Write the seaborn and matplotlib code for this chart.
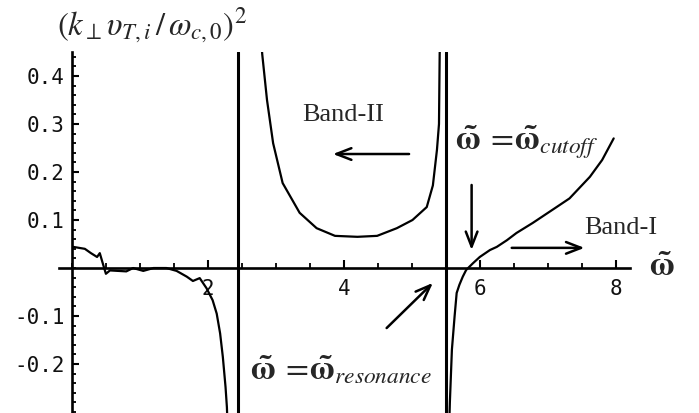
import numpy as np
import pandas as pd
import matplotlib
matplotlib.use("Agg")
import matplotlib.pyplot as plt
from matplotlib.ticker import MultipleLocator, FixedLocator
import seaborn as sns

# Dispersion branches: normalised frequency vs (k_perp v_Ti / w_c0)^2
low_w = [0.02, 0.19, 0.28, 0.37, 0.41, 0.47, 0.50, 0.56, 0.80, 0.90, 1.05, 1.20,
         1.39, 1.54, 1.69, 1.78, 1.88, 1.98, 2.07, 2.13, 2.18, 2.22, 2.26, 2.28, 2.29]
low_k = [0.044, 0.040, 0.031, 0.023, 0.031, 0.002, -0.012, -0.005, -0.007, 0.000,
         -0.006, 0.000, 0.000, -0.006, -0.018, -0.027, -0.021, -0.042, -0.067,
         -0.095, -0.136, -0.185, -0.248, -0.290, -0.330]

band2_w = [2.77, 2.80, 2.87, 2.96, 3.10, 3.35, 3.60, 3.87, 4.20, 4.49, 4.78, 5.01,
           5.22, 5.31, 5.37, 5.40, 5.41, 5.42]
band2_k = [0.50, 0.445, 0.350, 0.260, 0.177, 0.115, 0.083, 0.067, 0.065, 0.067,
           0.083, 0.100, 0.127, 0.172, 0.246, 0.300, 0.445, 0.50]

band1_w = [5.55, 5.56, 5.59, 5.63, 5.66, 5.70, 5.75, 5.80, 5.90, 6.00, 6.15, 6.25,
           6.40, 6.54, 6.78, 7.13, 7.32, 7.62, 7.80, 7.97]
band1_k = [-0.33, -0.28, -0.17, -0.10, -0.052, -0.035, -0.018, -0.004, 0.010, 0.023,
           0.0375, 0.044, 0.058, 0.073, 0.094, 0.127, 0.145, 0.190, 0.225, 0.270]

asymptotes = [2.44, 5.50]

x_ticks = [2, 4, 6, 8]
y_ticks = [-0.2, -0.1, 0.1, 0.2, 0.3, 0.4]

df = pd.concat([
    pd.DataFrame({"w": low_w, "k2": low_k, "branch": "low"}),
    pd.DataFrame({"w": band2_w, "k2": band2_k, "branch": "Band-II"}),
    pd.DataFrame({"w": band1_w, "k2": band1_k, "branch": "Band-I"}),
], ignore_index=True)

sns.set_theme(style="white")
plt.rcParams["mathtext.fontset"] = "stix"
plt.rcParams["font.family"] = ["DejaVu Sans Mono", "DejaVu Sans"]

W, H = 699, 413
fig = plt.figure(figsize=(W / 100, H / 100), dpi=100)
ax = fig.add_axes([59 / W, 0, (630 - 59) / W, 361 / H])

sns.lineplot(data=df, x="w", y="k2", units="branch", estimator=None, sort=False,
             color="black", lw=1.6, ax=ax, legend=False)
for xa in asymptotes:
    ax.axvline(xa, color="black", lw=2.2)

ax.set_xlim(-0.19, 8.21)
ax.set_ylim(-0.302, 0.45)
ax.set_xlabel("")
ax.set_ylabel("")

for side in ("top", "right"):
    ax.spines[side].set_visible(False)
for side in ("left", "bottom"):
    ax.spines[side].set_position(("data", 0))
    ax.spines[side].set_linewidth(1.9)
    ax.spines[side].set_color("black")

ax.xaxis.set_major_locator(FixedLocator(x_ticks))
ax.xaxis.set_minor_locator(MultipleLocator(0.5))
ax.yaxis.set_major_locator(FixedLocator(y_ticks))
ax.yaxis.set_minor_locator(MultipleLocator(0.02))
ax.set_xticklabels([str(v) for v in x_ticks])
ax.set_yticklabels([f"{v:.1f}" for v in y_ticks])
ax.tick_params(axis="both", which="both", direction="in", color="black",
               bottom=True, left=True, labelsize=15, labelcolor="#111111")
ax.tick_params(axis="x", which="major", length=6, width=1.5, pad=8)
ax.tick_params(axis="x", which="minor", length=3.5, width=1.3)
ax.tick_params(axis="y", which="major", length=5, width=1.5, pad=5)
ax.tick_params(axis="y", which="minor", length=3, width=1.3)

serif = ["Liberation Serif", "DejaVu Serif"]
wt = r"\mathbf{\tilde{\omega}}"
ax.text(3.99, 0.319, "Band-II", family=serif, fontsize=19, ha="center", va="center")
ax.text(8.07, 0.083, "Band-I", family=serif, fontsize=19, ha="center", va="center")
ax.text(5.63, 0.262, rf"${wt}\;=\!{wt}_{{cutoff}}$", fontsize=24,
        ha="left", va="center")
ax.text(2.62, -0.2125, rf"${wt}\;=\!{wt}_{{resonance}}$", fontsize=24,
        ha="left", va="center")
ax.text(8.68, 0.004, rf"${wt}$", fontsize=24, ha="center", va="center",
        clip_on=False)

arrow = dict(arrowstyle="->,head_length=0.9,head_width=0.35", color="black", lw=1.8,
             shrinkA=0, shrinkB=0)
ax.annotate("", xy=(3.84, 0.2375), xytext=(4.96, 0.2375), arrowprops=arrow)
ax.annotate("", xy=(5.88, 0.0375), xytext=(5.88, 0.173), arrowprops=arrow)
ax.annotate("", xy=(7.54, 0.042), xytext=(6.47, 0.042), arrowprops=arrow)
ax.annotate("", xy=(5.31, -0.031), xytext=(4.63, -0.125), arrowprops=arrow)

fig.text(152 / W, 1 - 26 / H, r"$(k_{\perp}\upsilon_{T,i}\,/\,\omega_{c,0})^2$",
         fontsize=23.5, ha="center", va="center")

fig.savefig("out.png", dpi=100, facecolor="white")
